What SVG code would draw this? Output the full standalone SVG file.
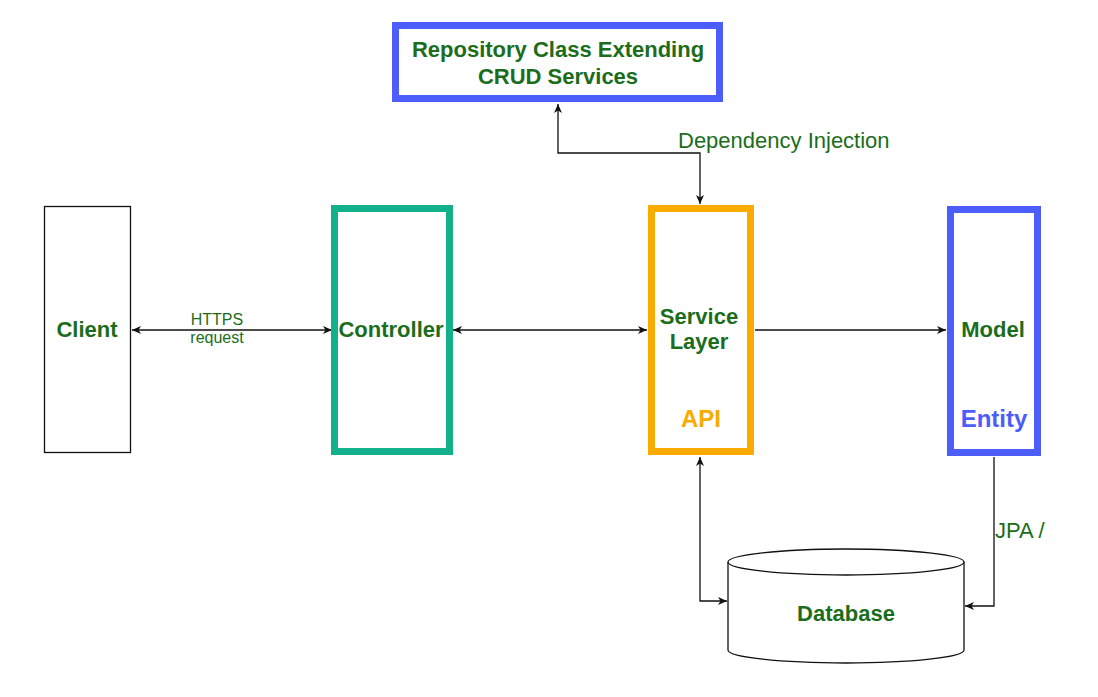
<svg xmlns="http://www.w3.org/2000/svg" width="1098" height="697" viewBox="0 0 1098 697">
<style>
.lbl{font-family:"Liberation Sans",Arial,sans-serif;font-weight:bold;font-size:22px;fill:#1b6d1b;text-anchor:middle}
.big{font-size:24px}
.reg{font-family:"Liberation Sans",Arial,sans-serif;font-size:22px;fill:#1b6d1b}
.small{font-family:"Liberation Sans",Arial,sans-serif;font-size:16px;fill:#1b6d1b;text-anchor:middle}
.box{fill:#fff;stroke-width:7}
.conn{fill:none;stroke:#111;stroke-width:1.3}
</style>
<defs>
<marker id="ah" markerWidth="10" markerHeight="10" refX="9" refY="5" orient="auto-start-reverse" markerUnits="userSpaceOnUse">
<path d="M0,1 L9,5 L0,9 L2.5,5 Z" fill="#111"/>
</marker>
</defs>
<rect width="1098" height="697" fill="#fff"/>
<g id="connectors">
<path class="conn" d="M558,104 V153 H700 V204" marker-start="url(#ah)" marker-end="url(#ah)"/>
<path class="conn" d="M132,330 H332" marker-start="url(#ah)" marker-end="url(#ah)"/>
<path class="conn" d="M453,330 H647" marker-start="url(#ah)" marker-end="url(#ah)"/>
<path class="conn" d="M755,330 H946" marker-end="url(#ah)"/>
<path class="conn" d="M700,457 V601 H727" marker-start="url(#ah)" marker-end="url(#ah)"/>
<path class="conn" d="M994,457 V606 H965" marker-end="url(#ah)"/>
<text class="reg" x="678" y="148">Dependency Injection</text>
<text class="small" x="217" y="325">HTTPS</text>
<text class="small" x="217" y="343">request</text>
<text class="reg" x="995" y="538">JPA /</text>
</g>
<g id="repository">
<rect class="box" x="395.5" y="25.5" width="324" height="73" stroke="#4d5dfa"/>
<text class="lbl" x="558" y="57">Repository Class Extending</text>
<text class="lbl" x="558" y="84">CRUD Services</text>
</g>
<g id="client">
<rect x="44.5" y="206.5" width="86" height="246" fill="#fff" stroke="#111" stroke-width="1.3"/>
<text class="lbl" x="87" y="337">Client</text>
</g>
<g id="controller">
<rect class="box" x="334.5" y="208.5" width="115" height="243" stroke="#13b08c"/>
<text class="lbl" x="391" y="337">Controller</text>
</g>
<g id="service">
<rect class="box" x="651.5" y="208.5" width="99" height="243" stroke="#f9ab00"/>
<text class="lbl" x="699" y="324">Service</text>
<text class="lbl" x="699" y="349">Layer</text>
<text class="lbl big" x="701" y="427" style="fill:#f9ab00">API</text>
</g>
<g id="model">
<rect class="box" x="950.5" y="209.5" width="87" height="243" stroke="#4d5dfa"/>
<text class="lbl" x="993" y="337">Model</text>
<text class="lbl big" x="994" y="427" style="fill:#4d5dfa">Entity</text>
</g>
<g id="database">
<path d="M728,562 V650 A118,13 0 0 0 964,650 V562" fill="#fff" stroke="#111" stroke-width="1.3"/>
<ellipse cx="846" cy="562" rx="118" ry="13" fill="#fff" stroke="#111" stroke-width="1.3"/>
<text class="lbl" x="846" y="621">Database</text>
</g>
</svg>
